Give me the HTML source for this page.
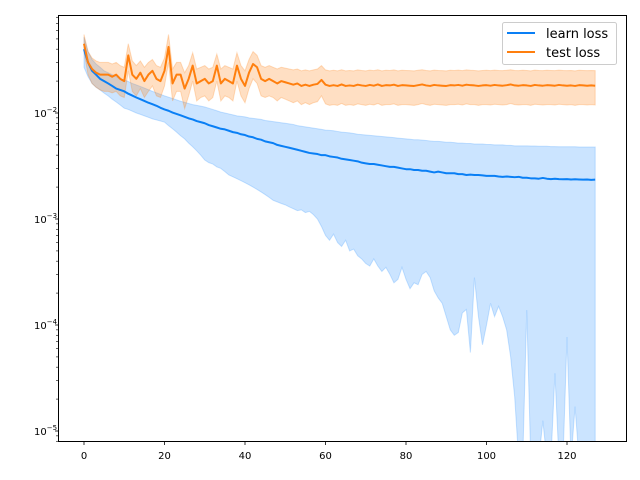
<!DOCTYPE html>
<html><head><meta charset="utf-8">
<style>
html,body{margin:0;padding:0;background:#fff;}
svg{display:block;font-family:"DejaVu Sans","Liberation Sans",sans-serif;}
</style></head>
<body>
<svg id="chart" width="640" height="480" viewBox="0 0 640 480" xmlns="http://www.w3.org/2000/svg">
<defs><clipPath id="plotclip"><rect x="58" y="15" width="568" height="426"/></clipPath></defs>
<rect x="58.5" y="15.5" width="568" height="426" fill="#fff"/>
<g id="bands" clip-path="url(#plotclip)"></g>
<g id="lines" clip-path="url(#plotclip)"></g>
<rect x="58.5" y="15.5" width="568" height="426" fill="none" stroke="#000" stroke-width="1"/>
<g id="xaxis"></g>
<g id="yaxis"></g>
<g>
  <rect x="502.5" y="22.5" width="114" height="42" rx="2" fill="#fff" fill-opacity="0.8" stroke="#ccc"/>
  <g>
    <line x1="507" y1="33" x2="535" y2="33" stroke="#0a7ff5" stroke-width="2"/>
    <text x="546" y="38" font-size="13" fill="#000">learn loss</text>
  </g>
  <g>
    <line x1="507" y1="52" x2="535" y2="52" stroke="#ff7f0e" stroke-width="2"/>
    <text x="546" y="57" font-size="13" fill="#000">test loss</text>
  </g>
</g>
</svg>
<script>
// values in units of 1e-3
const learnMean=[40,30,25,23,21,20,19,18,17,16.5,
16,15.2,14.6,14,13.5,13,12.5,12.1,11.7,11.2,
10.8,10.5,10.1,9.8,9.5,9.2,8.9,8.7,8.4,8.2,
8,7.7,7.5,7.3,7.1,7,6.8,6.6,6.5,6.3,
6.2,6,5.9,5.7,5.6,5.4,5.3,5.2,5,4.9,
4.8,4.7,4.6,4.5,4.4,4.3,4.2,4.15,4.1,4.0,
4.0,3.9,3.85,3.8,3.7,3.65,3.6,3.55,3.5,3.4,
3.35,3.3,3.3,3.25,3.2,3.15,3.1,3.1,3.05,3.0,
2.95,2.95,2.9,2.9,2.85,2.85,2.8,2.75,2.8,2.75,
2.7,2.7,2.7,2.65,2.65,2.6,2.62,2.6,2.6,2.58,
2.55,2.55,2.55,2.52,2.5,2.52,2.5,2.48,2.5,2.45,
2.45,2.42,2.42,2.4,2.44,2.4,2.38,2.4,2.38,2.37,
2.38,2.36,2.37,2.36,2.35,2.36,2.34,2.35];
const learnUpper=[52,38,32,29,27,25,24,23,22,21,
20.5,19.8,19,18.4,17.8,17.2,16.6,16,15.5,15,
14.5,14.1,13.7,13.3,12.9,12.6,12.3,12,11.8,11.6,
11.4,11.1,10.8,10.5,10.2,10,9.8,9.6,9.4,9.3,
9.2,9,8.9,8.8,8.7,8.5,8.4,8.3,8.2,8.1,
8,7.9,7.8,7.6,7.5,7.4,7.3,7.2,7.1,7,
6.9,6.85,6.8,6.7,6.6,6.55,6.5,6.4,6.3,6.25,
6.2,6.15,6.1,6.05,6,5.95,5.9,5.85,5.8,5.75,
5.7,5.65,5.6,5.6,5.55,5.5,5.45,5.4,5.4,5.35,
5.3,5.3,5.25,5.2,5.2,5.15,5.15,5.1,5.1,5.1,
5.05,5.05,5,5,5,4.95,4.95,4.9,4.9,4.9,
4.9,4.88,4.88,4.85,4.85,4.85,4.82,4.82,4.8,4.8,
4.8,4.8,4.8,4.78,4.78,4.78,4.78,4.78];
const learnLower=[27,22,19,17.5,16.5,15.4,14.5,13.5,12.7,11.9,
11.1,10.8,10.4,10,9.7,9.4,9.1,8.8,8.6,8.4,
8.2,7.6,7.1,6.6,6.1,5.7,5.2,4.8,4.4,4.0,
3.6,3.4,3.3,3.1,3.0,2.8,2.6,2.5,2.4,2.3,
2.2,2.1,2.0,1.9,1.8,1.7,1.6,1.5,1.45,1.4,
1.36,1.3,1.25,1.2,1.22,1.15,1.18,1.1,1.0,0.85,
0.7,0.63,0.72,0.6,0.55,0.63,0.5,0.52,0.45,0.42,
0.38,0.36,0.42,0.36,0.32,0.35,0.3,0.25,0.27,0.35,
0.27,0.22,0.25,0.24,0.3,0.32,0.28,0.21,0.18,0.16,
0.12,0.09,0.08,0.085,0.13,0.14,0.055,0.28,0.12,0.065,
0.1,0.16,0.12,0.15,0.12,0.09,0.05,0.021,0.001,0.001,
0.138,0.001,0.001,0.001,0.0125,0.001,0.001,0.035,0.001,0.001,
0.077,0.001,0.017,0.001,0.001,0.001,0.001,0.001];
const testMean=[45,30,26,24,23,23,23,22,23,21,
20,35,23,21,24,20,23,25,21,20,
25,42,19,23,23,17,21,28,19,20,
21,19,20,28,19,21,20,19,28,21,
18,24,29,27,21,20,21,20,19,20,
19.5,19,18.5,19,18,18.5,18,18.5,18.8,20.5,
18.5,18,18.3,18,18.6,18,18.2,18,18.5,18.2,
18,18.4,18.1,18.6,18,18.3,18.2,18.5,18,18.3,
18.2,18.1,18,18.3,18.6,18.2,18,18.4,18.2,18.1,
18,18.3,18.2,18.4,18.1,18.5,18.3,18.2,18,18.2,
18.3,18.1,18.4,18.2,18.1,18.3,18.6,18.2,18.1,18.3,
18.2,18,18.4,18.2,18.1,18.3,18.2,18.1,18.4,18.2,
18.1,18.2,18,18.3,18.2,18.1,18.2,18.1];
const testUpper=[55,38,33,31,30,30,30,29,30,28,
27,45,31,28,31,27,30,32,28,27,
33,55,26,30,30,24,28,37,26,27,
28,26,27,36,26,28,27,26,37,28,
25,32,38,35,28,27,28,27,26,27,
26.5,26,25.5,26,25,25.5,25,25.5,26,28,
25.5,25,25.3,25,25.6,25,25.2,25,25.5,25.2,
25,25.4,25.1,25.6,25,25.3,25.2,25.5,25,25.3,
25.2,25.1,25,25.3,25.6,25.2,25,25.4,25.2,25.1,
25,25.3,25.2,25.4,25.1,25.5,25.3,25.2,25,25.2,
25.3,25.1,25.4,25.2,25.1,25.3,25.6,25.2,25.1,25.3,
25.2,25,25.4,25.2,25.1,25.3,25.2,25.1,25.4,25.2,
25.1,25.2,25,25.3,25.2,25.1,25.2,25.1];
const testLower=[38,23,19,17.5,16.5,16,16,15.5,16,14.5,
14,25,16,14.5,17,14,16,18,14.5,14,
18,30,13,16,16,11,14.5,20,13,14,
14.5,13,14,20,13,14.5,14,13,20,14.5,
12.5,17,21,19,14.5,14,14.5,14,13,14,
13.5,13,12.5,13,12,12.5,12,12.5,12.8,14.5,
12.2,11.8,12,11.8,12.3,11.8,12,11.8,12.2,12,
11.8,12.1,11.9,12.3,11.8,12,12,12.2,11.8,12,
12,11.9,11.8,12,12.3,12,11.8,12.1,12,11.9,
11.8,12,12,12.1,11.9,12.2,12,12,11.8,12,
12,11.9,12.1,12,11.9,12,12.3,12,11.9,12,
12,11.8,12.1,12,11.9,12,12,11.9,12.1,12,
11.9,12,11.8,12,12,11.9,12,11.9];
const xTicks=[0,20,40,60,80,100,120];
const yTickExps=[-5,-4,-3,-2];

const NS="http://www.w3.org/2000/svg";
const X0=84, XS=4.025, Y2=113, DEC=106;
function xPos(i){return X0+i*XS;}
function yPos(v){const lv=Math.log10(Math.max(v,1e-9));return Y2-(lv+2)*DEC;}
function val(a,i){return a[i]*1e-3;}
function mk(tag,attrs,parent){const e=document.createElementNS(NS,tag);for(const k in attrs)e.setAttribute(k,attrs[k]);parent.appendChild(e);return e;}

const bands=document.getElementById('bands'), lines=document.getElementById('lines');
function band(up,lo,color,op,name){
  let d='';
  for(let i=0;i<up.length;i++)d+=(i?'L':'M')+xPos(i).toFixed(2)+','+yPos(val(up,i)).toFixed(2);
  for(let i=lo.length-1;i>=0;i--)d+='L'+xPos(i).toFixed(2)+','+Math.min(yPos(val(lo,i)),460).toFixed(2);
  const p=mk('path',{d:d+'Z',fill:color,'fill-opacity':op,stroke:color,'stroke-opacity':op,'stroke-width':1},bands);
  
  
}
function line(a,color,name){
  let d='';
  for(let i=0;i<a.length;i++)d+=(i?'L':'M')+xPos(i).toFixed(2)+','+yPos(val(a,i)).toFixed(2);
  const p=mk('path',{d:d,fill:'none',stroke:color,'stroke-width':2,'stroke-linejoin':'round'},lines);
  
  
}
band(learnUpper,learnLower,'#3d9bff',0.27,'learn-loss-band');
band(testUpper,testLower,'#ff7f0e',0.25,'test-loss-band');
line(learnMean,'#0a7ff5','learn-loss-line');
line(testMean,'#ff7f0e','test-loss-line');

const xa=document.getElementById('xaxis');
xTicks.forEach(t=>{
  const x=xPos(t);
  const g=mk('g',{},xa);
  
  
  mk('line',{x1:x,y1:441.5,x2:x,y2:445,stroke:'#000','stroke-width':0.8},g);
  const tx=mk('text',{x:x,y:459,'font-size':10,'text-anchor':'middle',fill:'#000'},g);
  tx.textContent=String(t);
});
const ya=document.getElementById('yaxis');
for(let e=-6;e<=-1;e++){
  for(let m=2;m<=9;m++){
    const y=yPos(m*Math.pow(10,e));
    if(y<15.5||y>441.5)continue;
    mk('line',{x1:58.5,y1:y,x2:56,y2:y,stroke:'#000','stroke-width':0.6},ya);
  }
}
yTickExps.forEach(e=>{
  const y=yPos(Math.pow(10,e));
  const g=mk('g',{},ya);
  
  
  mk('line',{x1:58.5,y1:y,x2:55,y2:y,stroke:'#000','stroke-width':0.8},g);
  const tx=mk('text',{x:34,y:y+4,'font-size':10,fill:'#000'},g);
  tx.textContent='10';
  const sp=mk('tspan',{dy:-5,'font-size':7},tx);
  sp.textContent='\u2212'+Math.abs(e);
});
</script>
</body></html>
